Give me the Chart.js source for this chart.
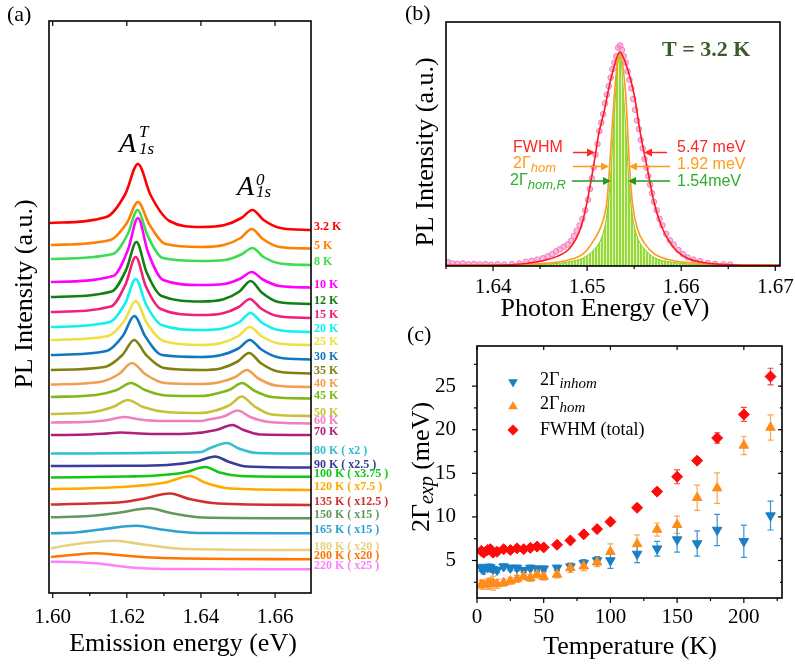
<!DOCTYPE html>
<html>
<head>
<meta charset="utf-8">
<title>PL linewidth vs temperature</title>
<script src="https://cdn.jsdelivr.net/npm/chart.js@4.4.1/dist/chart.umd.min.js"></script>
<style>
body { margin: 0; background: #ffffff; }
#wrap { position: relative; width: 795px; height: 668px; overflow: hidden; }
#wrap canvas { position: absolute; }
</style>
</head>
<body>
<div id="wrap">
  <canvas id="plA" width="395" height="668" style="left:0px;top:0px;"></canvas>
  <canvas id="plB" width="395" height="330" style="left:400px;top:0px;"></canvas>
  <canvas id="plC" width="395" height="348" style="left:400px;top:320px;"></canvas>
</div>
<script>
// ---------- panel (a): PL spectra, vertically offset (energy eV, intensity a.u.)
var pl3K2 = [[1.5992,37.0],[1.6145,37.6],[1.6196,39.9],[1.6230,42.9],[1.6264,39.8],[1.6315,37.2],[1.6400,36.6],[1.6464,36.8],[1.6509,37.5],[1.6539,38.3],[1.6569,37.3],[1.6614,36.5],[1.6697,36.3]];
var pl5K = [[1.5995,34.8],[1.6155,35.3],[1.6200,37.0],[1.6230,39.1],[1.6260,36.9],[1.6305,34.9],[1.6400,34.6],[1.6462,34.8],[1.6507,35.5],[1.6537,36.4],[1.6567,35.4],[1.6612,34.6],[1.6697,34.45]];
var pl8K = [[1.5995,33.4],[1.6162,33.9],[1.6202,35.85],[1.6229,38.3],[1.6256,35.75],[1.6297,33.5],[1.6400,33.2],[1.6464,33.3],[1.6509,33.85],[1.6539,34.5],[1.6569,33.6],[1.6614,32.95],[1.6697,32.8]];
var pl10K = [[1.5995,31.1],[1.6163,31.7],[1.6203,34.3],[1.6230,37.5],[1.6257,34.1],[1.6298,31.3],[1.6400,30.8],[1.6462,30.9],[1.6507,31.45],[1.6537,32.1],[1.6567,31.35],[1.6612,30.7],[1.6697,30.55]];
var pl12K = [[1.5995,29.6],[1.6159,30.15],[1.6199,32.4],[1.6226,35.1],[1.6253,32.1],[1.6294,29.7],[1.6400,29.15],[1.6459,29.35],[1.6504,30.15],[1.6534,31.2],[1.6564,30.05],[1.6609,29.1],[1.6697,28.9]];
var pl15K = [[1.5995,28.1],[1.6157,28.65],[1.6197,30.9],[1.6224,33.6],[1.6251,30.7],[1.6292,28.4],[1.6400,27.8],[1.6457,27.95],[1.6502,28.6],[1.6532,29.4],[1.6562,28.45],[1.6607,27.7],[1.6697,27.5]];
var pl20K = [[1.5995,26.6],[1.6154,27.1],[1.6196,29.0],[1.6224,31.4],[1.6252,28.85],[1.6294,26.8],[1.6400,26.3],[1.6459,26.45],[1.6504,27.1],[1.6534,28.0],[1.6564,27.05],[1.6609,26.3],[1.6697,26.1]];
var pl25K = [[1.5995,25.3],[1.6149,25.7],[1.6194,27.25],[1.6224,29.2],[1.6254,27.0],[1.6299,25.2],[1.6400,24.8],[1.6455,25.0],[1.6501,25.7],[1.6532,26.6],[1.6563,25.7],[1.6610,24.95],[1.6697,24.8]];
var pl30K = [[1.5995,23.8],[1.6145,24.2],[1.6190,25.75],[1.6220,27.7],[1.6250,25.65],[1.6295,23.8],[1.6400,23.6],[1.6455,23.8],[1.6501,24.45],[1.6532,25.3],[1.6563,24.35],[1.6610,23.55],[1.6697,23.35]];
var pl35K = [[1.5995,22.3],[1.6140,22.6],[1.6188,23.8],[1.6220,25.3],[1.6252,23.8],[1.6300,22.5],[1.6400,22.3],[1.6453,22.45],[1.6499,23.15],[1.6530,24.0],[1.6561,23.0],[1.6608,22.15],[1.6697,21.95]];
var pl40K = [[1.5995,20.85],[1.6127,21.1],[1.6179,21.9],[1.6214,23.0],[1.6249,21.9],[1.6302,21.0],[1.6400,20.9],[1.6447,21.05],[1.6493,21.6],[1.6524,22.3],[1.6555,21.45],[1.6602,20.75],[1.6697,20.6]];
var pl45K = [[1.5995,19.6],[1.6116,19.8],[1.6173,20.3],[1.6211,21.0],[1.6249,20.3],[1.6306,19.75],[1.6400,19.7],[1.6431,19.85],[1.6479,20.35],[1.6511,21.0],[1.6543,20.25],[1.6591,19.6],[1.6697,19.45]];
var pl50K = [[1.5995,17.9],[1.6100,18.05],[1.6162,18.6],[1.6203,19.3],[1.6244,18.6],[1.6306,18.1],[1.6400,18.0],[1.6429,18.15],[1.6478,18.8],[1.6510,19.65],[1.6543,18.7],[1.6591,17.85],[1.6697,17.7]];
var pl60K = [[1.5995,17.05],[1.6084,17.1],[1.6149,17.3],[1.6192,17.6],[1.6235,17.35],[1.6300,17.2],[1.6400,17.2],[1.6414,17.3],[1.6465,17.7],[1.6499,18.25],[1.6533,17.6],[1.6584,17.1],[1.6697,16.95]];
var pl70K = [[1.5995,15.8],[1.6070,15.82],[1.6135,15.92],[1.6184,16.05],[1.6233,15.95],[1.6300,15.9],[1.6375,15.95],[1.6441,16.3],[1.6485,16.8],[1.6515,16.3],[1.6560,15.85],[1.6697,15.8]];
var pl80K = [[1.5995,13.95],[1.6200,13.98],[1.6350,14.05],[1.6400,14.1],[1.6422,14.45],[1.6470,15.0],[1.6502,14.45],[1.6550,14.0],[1.6697,13.95]];
var pl90K = [[1.5995,12.7],[1.6200,12.72],[1.6309,12.8],[1.6387,13.15],[1.6439,13.65],[1.6473,13.15],[1.6524,12.65],[1.6697,12.55]];
var pl100K = [[1.5995,11.55],[1.6200,11.65],[1.6270,11.72],[1.6355,12.05],[1.6412,12.6],[1.6450,12.05],[1.6507,11.7],[1.6697,11.62]];
var pl120K = [[1.5995,10.4],[1.6100,10.48],[1.6205,10.65],[1.6304,11.05],[1.6370,11.7],[1.6414,11.0],[1.6480,10.45],[1.6697,10.3]];
var pl135K = [[1.5995,8.85],[1.6100,8.95],[1.6190,9.1],[1.6240,9.4],[1.6317,9.95],[1.6369,9.4],[1.6447,8.95],[1.6697,8.8]];
var pl150K = [[1.5995,7.57],[1.6100,7.7],[1.6173,8.0],[1.6261,8.47],[1.6319,8.0],[1.6406,7.55],[1.6697,7.47]];
var pl165K = [[1.5995,5.97],[1.6060,6.05],[1.6128,6.35],[1.6226,6.72],[1.6292,6.35],[1.6391,6.0],[1.6697,5.97]];
var pl180K = [[1.5995,4.47],[1.6054,4.85],[1.6168,5.22],[1.6244,4.85],[1.6358,4.4],[1.6697,4.3]];
var pl200K = [[1.5995,3.6],[1.6050,3.8],[1.6114,3.97],[1.6190,3.75],[1.6300,3.5],[1.6697,3.37]];
var pl220K = [[1.5995,3.13],[1.6040,3.1],[1.6114,2.97],[1.6222,2.53],[1.6338,2.4],[1.6697,2.37]];

var plSpectra = [pl3K2, pl5K, pl8K, pl10K, pl12K, pl15K, pl20K, pl25K, pl30K, pl35K, pl40K, pl45K, pl50K,
  pl60K, pl70K, pl80K, pl90K, pl100K, pl120K, pl135K, pl150K, pl165K, pl180K, pl200K, pl220K];
var plLabels = ['3.2 K', '5 K', '8 K', '10 K', '12 K', '15 K', '20 K', '25 K', '30 K', '35 K', '40 K', '45 K', '50 K',
  '60 K', '70 K', '80 K ( x2 )', '90 K ( x2.5 )', '100 K ( x3.75 )', '120 K ( x7.5 )', '135 K ( x12.5 )',
  '150 K ( x15 )', '165 K ( x15 )', '180 K ( x20 )', '200 K ( x20 )', '220 K ( x25 )'];
var aTicks = [1.60, 1.62, 1.64, 1.66];
var aMinor = [1.61, 1.63, 1.65];

// ---------- panel (b): 3.2 K exciton line, normalised
var bFwhmFit = [[1.6350,0.003],[1.6420,0.006],[1.6450,0.022],[1.6468,0.045],[1.6482,0.085],[1.6493,0.175],[1.6500,0.30],[1.6505,0.42],[1.6509,0.525],[1.6512,0.61],[1.6518,0.72],[1.6523,0.83],[1.6528,0.92],[1.65345,1.0],[1.6543,0.92],[1.6550,0.80],[1.6557,0.61],[1.6564,0.455],[1.6571,0.30],[1.6580,0.175],[1.6592,0.085],[1.6605,0.04],[1.6625,0.015],[1.6660,0.005],[1.6705,0.003]];
var bHomFit = [[1.6350,0.002],[1.6420,0.006],[1.6450,0.011],[1.6479,0.027],[1.6496,0.058],[1.6507,0.12],[1.6516,0.2],[1.6521,0.30],[1.6524,0.47],[1.6529,0.80],[1.65345,1.0],[1.6541,0.80],[1.6545,0.47],[1.6548,0.30],[1.6553,0.18],[1.6562,0.10],[1.6572,0.055],[1.6590,0.027],[1.6620,0.012],[1.6705,0.004]];
var bHomRFit = [[1.6350,0.0],[1.6420,0.003],[1.6450,0.007],[1.6479,0.018],[1.6496,0.038],[1.6507,0.075],[1.6516,0.14],[1.6521,0.24],[1.6525,0.42],[1.6529,0.72],[1.65345,1.0],[1.6540,0.72],[1.6544,0.42],[1.6548,0.24],[1.6553,0.14],[1.6562,0.075],[1.6572,0.038],[1.6590,0.018],[1.6620,0.007],[1.6705,0.002]];
var bMeasured = [[1.6352,0.018],[1.6357,0.012],[1.6362,0.010],[1.6368,0.012],[1.6374,0.008],[1.6380,0.010],[1.6386,0.007],[1.6392,0.009],[1.6398,0.006],[1.6405,0.008],[1.6412,0.006],[1.6420,0.009],[1.6428,0.012],[1.6435,0.020],[1.6441,0.024],[1.6447,0.030],[1.6453,0.036],[1.6458,0.045],[1.6463,0.055],[1.6467,0.068],[1.6471,0.078],[1.6475,0.090],[1.6479,0.100],[1.6483,0.118],[1.6486,0.140],[1.6489,0.165],[1.6492,0.19],[1.6495,0.22],[1.6498,0.26],[1.6501,0.31],[1.6503,0.36],[1.6505,0.41],[1.6507,0.46],[1.6509,0.52],[1.6511,0.57],[1.6513,0.63],[1.6515,0.67],[1.6517,0.71],[1.6519,0.76],[1.6521,0.80],[1.6523,0.84],[1.6525,0.88],[1.6527,0.92],[1.6529,0.95],[1.6531,0.98],[1.6533,1.02],[1.6535,1.03],[1.6537,1.01],[1.6539,0.98],[1.6541,0.95],[1.6543,0.91],[1.6545,0.87],[1.6547,0.83],[1.6549,0.78],[1.6551,0.73],[1.6553,0.68],[1.6555,0.64],[1.6557,0.59],[1.6559,0.55],[1.6561,0.50],[1.6563,0.46],[1.6565,0.42],[1.6567,0.38],[1.6569,0.34],[1.6571,0.30],[1.6574,0.26],[1.6577,0.22],[1.6580,0.19],[1.6584,0.15],[1.6588,0.12],[1.6592,0.10],[1.6597,0.075],[1.6602,0.055],[1.6607,0.040],[1.6613,0.030],[1.6620,0.022],[1.6628,0.014],[1.6636,0.010],[1.6645,0.008],[1.6652,0.007]];
var bTicks = [1.64, 1.65, 1.66, 1.67];
var bMinor = [1.635, 1.645, 1.655, 1.665];

// ---------- panel (c): linewidths vs temperature (meV)
var temps = [3.2, 5, 8, 10, 12, 15, 20, 25, 30, 35, 40, 45, 50, 60, 70, 80, 90, 100, 120, 135, 150, 165, 180, 200, 220];
var fwhmTotal = [6.1, 5.9, 6.2, 6.3, 5.9, 6.0, 6.3, 6.2, 6.4, 6.3, 6.45, 6.6, 6.5, 6.8, 7.3, 8.0, 8.6, 9.45, 11.05, 12.9, 14.6, 16.45, 19.05, 21.75, 26.1];
var fwhmErr = [0.3, 0.3, 0.3, 0.3, 0.3, 0.3, 0.2, 0.2, 0.2, 0.2, 0.2, 0.2, 0.2, 0.2, 0.2, 0.2, 0.2, 0.2, 0.3, 0.3, 0.8, 0.3, 0.6, 0.8, 0.95];
var gHom = [2.25, 2.2, 2.3, 2.4, 2.4, 2.3, 2.45, 2.65, 2.9, 3.2, 3.0, 3.4, 3.15, 3.4, 4.15, 4.35, 4.8, 6.0, 6.9, 8.55, 9.1, 12.2, 13.3, 18.2, 20.25];
var gHomErr = [0.5, 0.5, 0.6, 0.6, 0.8, 0.5, 0.4, 0.4, 0.4, 0.4, 0.4, 0.4, 0.4, 0.4, 0.5, 0.5, 0.5, 0.9, 1.05, 0.75, 1.0, 1.45, 1.75, 1.05, 1.45];
var gInhom = [4.15, 3.95, 4.2, 4.2, 4.0, 3.9, 4.3, 4.15, 4.15, 3.9, 4.15, 4.05, 4.05, 4.15, 4.3, 4.7, 5.0, 5.0, 5.75, 6.35, 7.4, 6.95, 8.5, 7.2, 10.15];
var gInhomErr = [0.4, 0.5, 0.4, 0.4, 0.3, 0.3, 0.3, 0.3, 0.3, 0.3, 0.3, 0.3, 0.3, 0.3, 0.4, 0.4, 0.45, 0.9, 1.0, 0.85, 1.45, 1.45, 1.8, 1.85, 1.65];
var cTicksX = [0, 50, 100, 150, 200];
var cTicksY = [5, 10, 15, 20, 25];
var cMinorX = [25, 75, 125, 175, 225];
var cMinorY = [2.5, 7.5, 12.5, 17.5, 22.5, 27.5];

// colours of the spectra / labels
var plColors = ['#ff0000', '#ff8000', '#3cdc50', '#ff00ff', '#118011', '#f0207a', '#10f0f0', '#eee040', '#1077c0',
  '#808010', '#f0a050', '#80b818', '#c8c038', '#f080c0', '#b0207a', '#30c0d0', '#3a3a98', '#10c810', '#ffaa00',
  '#d03030', '#609860', '#30a0d0', '#e8d080', '#ff7700', '#ff80ff'];

var SERIF = '"Liberation Serif", "Times New Roman", serif';
var SANS = '"Liberation Sans", Arial, sans-serif';

function fnt(size, style, fam) {
  return (style || '') + ' ' + size + 'px ' + (fam || SERIF);
}

function pts(arr) {
  return arr.map(function (p) { return { x: p[0], y: p[1] }; });
}

// draw a run of text pieces (used for sub/superscripts)
function drawParts(ctx, parts, x, y, align) {
  var w = 0;
  parts.forEach(function (p) { ctx.font = p.font; w += ctx.measureText(p.text).width; });
  var cx = align === 'center' ? x - w / 2 : (align === 'right' ? x - w : x);
  ctx.textAlign = 'left';
  parts.forEach(function (p) {
    ctx.font = p.font;
    if (p.color) ctx.fillStyle = p.color;
    ctx.fillText(p.text, cx, y + (p.dy || 0));
    cx += ctx.measureText(p.text).width;
  });
}

function drawRotated(ctx, parts, x, y) {
  ctx.save();
  ctx.translate(x, y);
  ctx.rotate(-Math.PI / 2);
  ctx.textBaseline = 'middle';
  ctx.fillStyle = '#000';
  drawParts(ctx, parts, 0, 0, 'center');
  ctx.restore();
}

// box round the plot plus tick marks placed through the scales
function drawFrame(chart, ticks) {
  var ctx = chart.ctx, a = chart.chartArea;
  ctx.save();
  ctx.strokeStyle = '#000';
  ctx.lineWidth = 1.2;
  ticks.forEach(function (t) {
    var sc = chart.scales[t.axis];
    var s = t.out ? 1 : -1;
    t.values.forEach(function (v) {
      var p = sc.getPixelForValue(v);
      ctx.beginPath();
      if (t.side === 'bottom') { ctx.moveTo(p, a.bottom); ctx.lineTo(p, a.bottom + s * t.len); }
      if (t.side === 'top') { ctx.moveTo(p, a.top); ctx.lineTo(p, a.top - s * t.len); }
      if (t.side === 'left') { ctx.moveTo(a.left, p); ctx.lineTo(a.left - s * t.len, p); }
      if (t.side === 'right') { ctx.moveTo(a.right, p); ctx.lineTo(a.right + s * t.len, p); }
      ctx.stroke();
    });
  });
  ctx.lineWidth = 1.6;
  ctx.strokeRect(a.left, a.top, a.right - a.left, a.bottom - a.top);
  ctx.restore();
}

function arrow(ctx, x1, x2, y, color) {
  var dir = x2 > x1 ? 1 : -1;
  ctx.strokeStyle = color;
  ctx.fillStyle = color;
  ctx.lineWidth = 1.5;
  ctx.beginPath();
  ctx.moveTo(x1, y);
  ctx.lineTo(x2 - dir * 6, y);
  ctx.stroke();
  ctx.beginPath();
  ctx.moveTo(x2, y);
  ctx.lineTo(x2 - dir * 8, y - 4);
  ctx.lineTo(x2 - dir * 8, y + 4);
  ctx.closePath();
  ctx.fill();
}

function xAxis(min, max, ticks, pad, height, fmt) {
  return {
    type: 'linear', min: min, max: max,
    grid: { display: false }, border: { display: false },
    afterBuildTicks: function (s) { s.ticks = ticks.map(function (v) { return { value: v }; }); },
    ticks: { color: '#000', font: { family: SERIF, size: 21 }, padding: pad, autoSkip: false, maxRotation: 0, callback: fmt },
    afterFit: function (s) { s.height = height; }
  };
}

function yAxis(min, max, ticks, pad, width) {
  var cfg = {
    type: 'linear', min: min, max: max,
    grid: { display: false }, border: { display: false },
    ticks: { display: false },
    afterFit: function (s) { s.width = width; }
  };
  if (ticks) {
    cfg.afterBuildTicks = function (s) { s.ticks = ticks.map(function (v) { return { value: v }; }); };
    cfg.ticks = { display: true, color: '#000', font: { family: SERIF, size: 21 }, padding: pad, autoSkip: false };
  }
  return cfg;
}

function baseOptions(pad, x, y) {
  return {
    responsive: false, animation: false, events: [],
    layout: { padding: pad },
    plugins: { legend: { display: false }, tooltip: { enabled: false } },
    scales: { x: x, y: y }
  };
}

function twoDec(v) { return Number(v).toFixed(2); }

// ================= chart (a)
var aDatasets = plSpectra.map(function (d, i) {
  return {
    data: pts(d), showLine: true, borderColor: plColors[i], borderWidth: 2.6,
    pointRadius: 0, cubicInterpolationMode: 'monotone', fill: false, order: plSpectra.length - i
  };
});

new Chart(document.getElementById('plA'), {
  type: 'scatter',
  data: { datasets: aDatasets },
  options: baseOptions({ left: 0, top: 21, right: 84, bottom: 0 },
    xAxis(1.599, 1.6697, aTicks, 4, 75, twoDec),
    yAxis(0, 57.2, null, 0, 49)),
  plugins: [{
    id: 'panelA',
    afterDraw: function (chart) {
      var ctx = chart.ctx, a = chart.chartArea, ys = chart.scales.y;
      drawFrame(chart, [
        { axis: 'x', side: 'bottom', values: aTicks, len: 5, out: true },
        { axis: 'x', side: 'bottom', values: aMinor, len: 3, out: true },
        { axis: 'x', side: 'top', values: aTicks, len: 5, out: false }
      ]);
      ctx.save();
      // temperature labels at the right end of every trace
      ctx.textBaseline = 'middle';
      ctx.textAlign = 'left';
      ctx.font = fnt(12, 'bold');
      plSpectra.forEach(function (d, i) {
        var y = ys.getPixelForValue(d[d.length - 1][1]) - 3;
        ctx.fillStyle = plColors[i];
        ctx.fillText(plLabels[i], a.right + 3, y);
      });
      // peak names
      ctx.textBaseline = 'alphabetic';
      ctx.fillStyle = '#000';
      ctx.font = fnt(28, 'italic');
      ctx.fillText('A', 119, 152);
      ctx.fillText('A', 237, 195);
      ctx.font = fnt(17, 'italic');
      ctx.fillText('T', 139, 137);
      ctx.fillText('1s', 139, 154);
      ctx.fillText('0', 256, 185);
      ctx.fillText('1s', 256, 197);
      // axis titles and panel tag
      ctx.textBaseline = 'middle';
      ctx.font = fnt(26);
      ctx.textAlign = 'center';
      ctx.fillText('Emission energy (eV)', 183, 644);
      ctx.textAlign = 'left';
      ctx.font = fnt(22);
      ctx.fillText('(a)', 7, 15);
      ctx.restore();
      drawRotated(ctx, [{ text: 'PL Intensity (a.u.)', font: fnt(26) }], 25, 294);
    }
  }]
});

// ================= chart (b)
var ctxB = document.getElementById('plB').getContext('2d');
var tile = document.createElement('canvas');
tile.width = 3; tile.height = 8;
var tg = tile.getContext('2d');
tg.fillStyle = '#dff5bd'; tg.fillRect(0, 0, 3, 8);
tg.fillStyle = '#97d83a'; tg.fillRect(0, 0, 2, 8);
var stripes = ctxB.createPattern(tile, 'repeat');

new Chart(ctxB, {
  type: 'scatter',
  data: {
    datasets: [
      { data: pts(bFwhmFit), showLine: true, borderColor: '#ff1a1a', borderWidth: 1.6, pointRadius: 0, cubicInterpolationMode: 'monotone', order: 0 },
      { data: pts(bHomFit), showLine: true, borderColor: '#ff9a1a', borderWidth: 1.6, pointRadius: 0, cubicInterpolationMode: 'monotone', order: 1 },
      { data: pts(bMeasured), showLine: false, pointRadius: 2.8, backgroundColor: 'rgba(244,140,200,0.6)', borderColor: '#f27cc4', borderWidth: 1, order: 2 },
      { data: pts(bHomRFit), showLine: true, borderColor: '#88cc22', borderWidth: 1, pointRadius: 0, cubicInterpolationMode: 'monotone', fill: 'origin', backgroundColor: stripes, order: 3 }
    ]
  },
  options: baseOptions({ left: 0, top: 22, right: 15, bottom: 0 },
    xAxis(1.635, 1.6705, bTicks, 1, 64, twoDec),
    yAxis(0, 1.14, null, 0, 46)),
  plugins: [{
    id: 'panelB',
    afterDraw: function (chart) {
      var ctx = chart.ctx;
      drawFrame(chart, [
        { axis: 'x', side: 'bottom', values: bTicks, len: 5, out: true },
        { axis: 'x', side: 'bottom', values: bMinor, len: 3, out: true }
      ]);
      ctx.save();
      ctx.textBaseline = 'middle';
      ctx.fillStyle = '#000';
      ctx.font = fnt(22);
      ctx.fillText('(b)', 5, 14);
      ctx.font = fnt(26);
      ctx.textAlign = 'center';
      ctx.fillText('Photon Energy (eV)', 205, 309);
      ctx.textAlign = 'left';
      ctx.font = fnt(22, 'bold');
      ctx.fillStyle = '#3c5a2a';
      ctx.fillText('T = 3.2 K', 262, 50);
      // widths of the three line shapes
      var red = '#ff2626', orange = '#ff9a1a', green = '#2cae2c';
      ctx.font = fnt(16, '', SANS);
      ctx.fillStyle = red;
      ctx.fillText('FWHM', 113, 148);
      ctx.fillText('5.47 meV', 277, 148);
      drawParts(ctx, [{ text: '2Γ', font: fnt(16, '', SANS), color: orange },
        { text: 'hom', font: fnt(13, 'italic', SANS), dy: 4, color: orange }], 113, 164, 'left');
      ctx.font = fnt(16, '', SANS);
      ctx.fillText('1.92 meV', 277, 165);
      drawParts(ctx, [{ text: '2Γ', font: fnt(16, '', SANS), color: green },
        { text: 'hom,R', font: fnt(13, 'italic', SANS), dy: 4, color: green }], 110, 181, 'left');
      ctx.font = fnt(16, '', SANS);
      ctx.fillText('1.54meV', 277, 182);
      arrow(ctx, 173, 195, 152.5, red);
      arrow(ctx, 267, 244, 152.5, red);
      arrow(ctx, 173, 209, 166.5, orange);
      arrow(ctx, 270, 229, 166.5, orange);
      arrow(ctx, 172, 211, 181, '#1f9a1f');
      arrow(ctx, 270, 228, 181, '#1f9a1f');
      ctx.restore();
      drawRotated(ctx, [{ text: 'PL Intensity (a.u.)', font: fnt(26) }], 26, 152);
    }
  }]
});

// ================= chart (c)
function series(vals) {
  return temps.map(function (t, i) { return { x: t, y: vals[i] }; });
}

var cColors = { inhom: '#1b7fc4', hom: '#ff8c1a', fwhm: '#ff0a0a' };

function marker(ctx, kind, x, y, color) {
  ctx.fillStyle = color;
  ctx.beginPath();
  if (kind === 'down') {
    ctx.moveTo(x - 4.8, y - 2.8); ctx.lineTo(x + 4.8, y - 2.8); ctx.lineTo(x, y + 5.5);
  } else if (kind === 'up') {
    ctx.moveTo(x - 4.8, y + 2.8); ctx.lineTo(x + 4.8, y + 2.8); ctx.lineTo(x, y - 5.5);
  } else {
    ctx.moveTo(x, y - 5.5); ctx.lineTo(x + 5.5, y); ctx.lineTo(x, y + 5.5); ctx.lineTo(x - 5.5, y);
  }
  ctx.closePath();
  ctx.fill();
}

new Chart(document.getElementById('plC'), {
  type: 'scatter',
  data: {
    datasets: [
      { data: series(fwhmTotal), errs: fwhmErr, errColor: '#f04a4a', pointStyle: 'rectRot', pointRadius: 5.5,
        backgroundColor: cColors.fwhm, borderColor: cColors.fwhm, borderWidth: 1, order: 0 },
      { data: series(gHom), errs: gHomErr, errColor: '#f8a65c', pointStyle: 'triangle', pointRadius: 5.5,
        backgroundColor: cColors.hom, borderColor: cColors.hom, borderWidth: 1, order: 1 },
      { data: series(gInhom), errs: gInhomErr, errColor: '#3b93d0', pointStyle: 'triangle', pointRotation: 180, pointRadius: 5.5,
        backgroundColor: cColors.inhom, borderColor: cColors.inhom, borderWidth: 1, order: 2 }
    ]
  },
  options: baseOptions({ left: 0, top: 26, right: 13, bottom: 0 },
    xAxis(0, 228.6, cTicksX, -1, 70, function (v) { return String(v); }),
    yAxis(0.7, 29.6, cTicksY, 13, 77)),
  plugins: [{
    id: 'panelC',
    beforeDatasetsDraw: function (chart) {
      var ctx = chart.ctx, xs = chart.scales.x, ys = chart.scales.y;
      ctx.save();
      ctx.lineWidth = 1.2;
      chart.data.datasets.forEach(function (ds) {
        ctx.strokeStyle = ds.errColor;
        ds.data.forEach(function (p, i) {
          var x = xs.getPixelForValue(p.x);
          var y1 = ys.getPixelForValue(p.y + ds.errs[i]);
          var y2 = ys.getPixelForValue(p.y - ds.errs[i]);
          ctx.beginPath();
          ctx.moveTo(x, y1); ctx.lineTo(x, y2);
          ctx.moveTo(x - 3, y1); ctx.lineTo(x + 3, y1);
          ctx.moveTo(x - 3, y2); ctx.lineTo(x + 3, y2);
          ctx.stroke();
        });
      });
      ctx.restore();
    },
    afterDraw: function (chart) {
      var ctx = chart.ctx;
      drawFrame(chart, [
        { axis: 'x', side: 'bottom', values: cTicksX, len: 5, out: true },
        { axis: 'x', side: 'bottom', values: cMinorX, len: 3, out: true },
        { axis: 'x', side: 'top', values: cTicksX, len: 4, out: false },
        { axis: 'y', side: 'left', values: cTicksY, len: 5, out: true },
        { axis: 'y', side: 'left', values: cMinorY, len: 3, out: true },
        { axis: 'y', side: 'right', values: cTicksY, len: 4, out: false },
        { axis: 'y', side: 'right', values: cMinorY, len: 2, out: false }
      ]);
      ctx.save();
      ctx.textBaseline = 'middle';
      ctx.fillStyle = '#000';
      // legend
      marker(ctx, 'down', 113, 62, cColors.inhom);
      marker(ctx, 'up', 113, 86.5, cColors.hom);
      marker(ctx, 'diamond', 113, 110, cColors.fwhm);
      ctx.fillStyle = '#000';
      drawParts(ctx, [{ text: '2Γ', font: fnt(18) }, { text: 'inhom', font: fnt(15, 'italic'), dy: 4 }], 140, 60, 'left');
      drawParts(ctx, [{ text: '2Γ', font: fnt(18) }, { text: 'hom', font: fnt(15, 'italic'), dy: 4 }], 140, 84.5, 'left');
      drawParts(ctx, [{ text: 'FWHM (total)', font: fnt(18) }], 140, 110, 'left');
      ctx.font = fnt(22);
      ctx.fillText('(c)', 7, 15);
      ctx.font = fnt(26);
      ctx.textAlign = 'center';
      ctx.fillText('Temperature (K)', 230, 327);
      ctx.restore();
      drawRotated(ctx, [{ text: '2Γ', font: fnt(26) }, { text: 'exp', font: fnt(20, 'italic'), dy: 6 },
        { text: ' (meV)', font: fnt(26) }], 22, 147);
    }
  }]
});
</script>
</body>
</html>
